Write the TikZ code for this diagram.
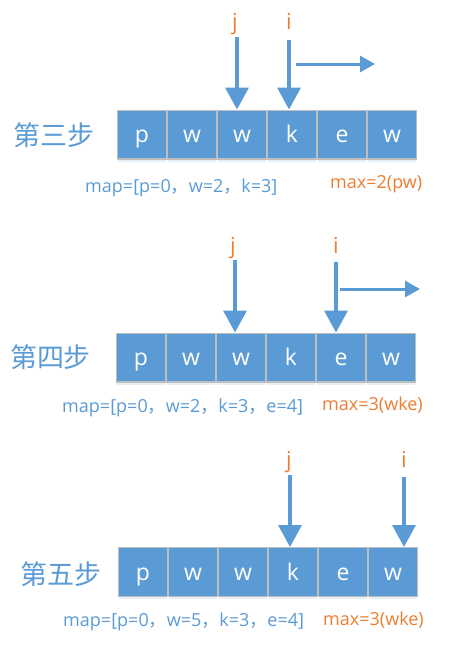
\documentclass[tikz,border=0pt]{standalone}
\usepackage{fontspec}
\setmainfont{Open Sans}
\newfontfamily\cjk{Noto Sans CJK SC}
\usetikzlibrary{arrows.meta,shadows}
\definecolor{cblue}{RGB}{91,155,213}
\definecolor{corange}{RGB}{237,125,49}
\definecolor{cedge}{RGB}{190,190,190}
\newcommand{\fwc}{{\cjk ，}}

\begin{document}
\begin{tikzpicture}[x=1pt, y=-1pt,
  cell/.style={draw=cedge, line width=1.2pt, fill=cblue, minimum size=48.8pt,
    inner sep=0pt, text=white, text height=16pt, text depth=0pt,
    font=\fontsize{23}{23}\selectfont,
    drop shadow={shadow xshift=0pt, shadow yshift=-3pt, fill=cblue!35, opacity=.45}},
  steplabel/.style={text=cblue, font=\cjk\fontsize{27}{27}\selectfont},
  ptr/.style={text=corange, inner sep=0pt, anchor=base,
    font=\fontsize{22}{22}\selectfont},
  maptext/.style={text=cblue, inner sep=0pt, anchor=base west,
    font=\fontsize{18}{18}\selectfont},
  maxtext/.style={text=corange, inner sep=0pt, anchor=base west,
    font=\fontsize{18}{18}\selectfont},
  down/.style={cblue, line width=3.5pt, -{Triangle[width=23pt,length=22pt]}},
  move/.style={cblue, line width=3pt, -{Triangle[width=16pt,length=15pt]}}]
\useasboundingbox (0,0) rectangle (464,654);

% the string, one row per step
\foreach \s/\x/\y in {3/117/134.5, 4/116/357.5, 5/118/572}
  \foreach \ch [count=\k] in {p,w,w,k,e,w}
    \node[cell] (c\s-\k) at ({\x+25+50*(\k-1)},\y) {\ch};

% step 3
\node[steplabel] (l3) at (54,135) {第三步};
\node[ptr] (j3) at (235,29) {j};
\node[ptr] (i3) at (289,29) {i};
\coordinate (j3top) at (237,37);
\coordinate (i3top) at (289,40);
\draw[down] (j3top) -- (j3top |- c3-3.north);
\draw[down] (i3top) -- (i3top |- c3-4.north);
\coordinate (m3a) at (296,64);
\coordinate (m3b) at (375,64);
\draw[move] (m3a) -- (m3b);
\node[maptext] (map3) at (85,192.5) {map=[p=0\fwc w=2\fwc k=3]};
\node[maxtext] (max3) at (330,188) {max=2(pw)};

% step 4
\node[steplabel] (l4) at (50.5,357) {第四步};
\node[ptr] (j4) at (233,253) {j};
\node[ptr] (i4) at (336,253) {i};
\coordinate (j4top) at (235,260);
\coordinate (i4top) at (336,262);
\draw[down] (j4top) -- (j4top |- c4-3.north);
\draw[down] (i4top) -- (i4top |- c4-5.north);
\coordinate (m4a) at (340,289);
\coordinate (m4b) at (420,289);
\draw[move] (m4a) -- (m4b);
\node[maptext] (map4) at (62,412.5) {map=[p=0\fwc w=2\fwc k=3\fwc e=4]};
\node[maxtext] (max4) at (322,410) {max=3(wke)};

% step 5
\node[steplabel] (l5) at (61,574) {第五步};
\node[ptr] (j5) at (289,467) {j};
\node[ptr] (i5) at (404,467) {i};
\coordinate (j5top) at (290,475);
\coordinate (i5top) at (404,477);
\draw[down] (j5top) -- (j5top |- c5-4.north);
\draw[down] (i5top) -- (i5top |- c5-6.north);
\node[maptext] (map5) at (63,626.5) {map=[p=0\fwc w=5\fwc k=3\fwc e=4]};
\node[maxtext] (max5) at (323,625) {max=3(wke)};
\end{tikzpicture}
\end{document}
